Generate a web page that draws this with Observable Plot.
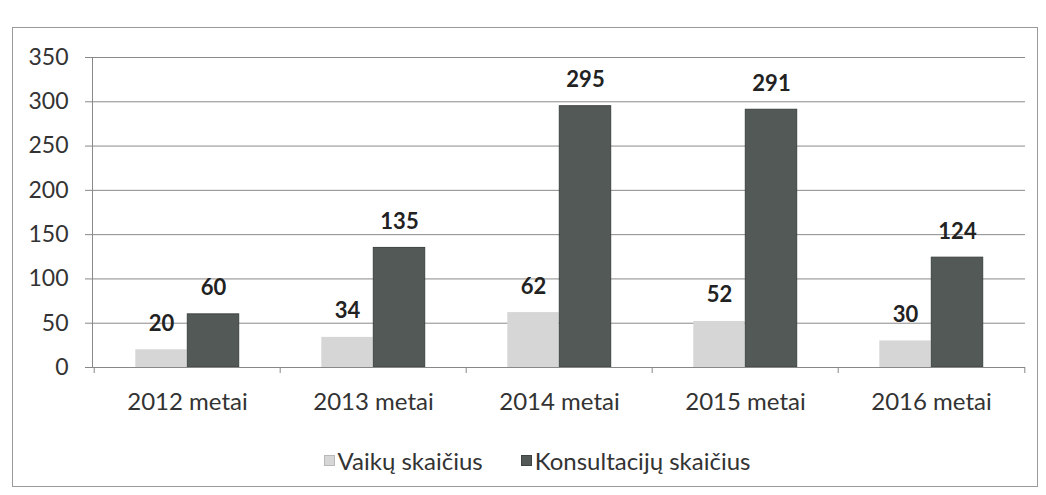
<!DOCTYPE html>
<html>
<head>
<meta charset="utf-8">
<script src="https://cdn.jsdelivr.net/npm/d3@7"></script>
<script src="https://cdn.jsdelivr.net/npm/@observablehq/plot@0.6"></script>
<style>
  html, body { margin: 0; padding: 0; background: #fff; }
  body { width: 1046px; height: 495px; position: relative; overflow: hidden; font-family: Lato, "Open Sans", sans-serif; }
  #border { position: absolute; left: 12px; top: 27px; width: 1026px; height: 460px; border: 1px solid #9a9a9a; box-sizing: border-box; }
  #chart { position: absolute; left: 0; top: 0; }
  #legend { position: absolute; left: 14px; width: 1046px; top: 446px; display: flex; justify-content: center; font-size: 24px; color: #333; }
  #legend .item { display: flex; align-items: center; gap: 3px; }
  #legend .sw { width: 11px; height: 11px; display: inline-block; box-sizing: border-box; }
</style>
</head>
<body>
<div id="border"></div>
<div id="chart"></div>
<div id="legend"></div>
<script>
const years = ["2012 metai", "2013 metai", "2014 metai", "2015 metai", "2016 metai"];
const vaikai = [20, 34, 62, 52, 30];
const konsultacijos = [60, 135, 295, 291, 124];
const seriesNames = ["Vaikų skaičius", "Konsultacijų skaičius"];
const seriesColors = ["#d6d6d6", "#535956"];
const yTicks = [0, 50, 100, 150, 200, 250, 300, 350];

const rows = [];
years.forEach((y, i) => {
  rows.push({year: y, series: seriesNames[0], value: vaikai[i]});
  rows.push({year: y, series: seriesNames[1], value: konsultacijos[i]});
});
const s0 = rows.filter(d => d.series === seriesNames[0]);
const s1 = rows.filter(d => d.series === seriesNames[1]);

const W = 1046, mL = 92, mR = 21;
const half = (W - mL - mR) / years.length / 2;
const barW = 52;

const chart = Plot.plot({
  width: W,
  height: 420,
  marginLeft: mL,
  marginRight: mR,
  marginTop: 57,
  marginBottom: 53,
  style: {fontFamily: "Lato, 'Open Sans', sans-serif", fontSize: "21px", color: "#333", background: "transparent"},
  x: {domain: years, padding: 0, label: null},
  y: {domain: [0, 350], label: null},
  marks: [
    Plot.gridY(yTicks, {stroke: "#8a8a8a", strokeOpacity: 1, strokeWidth: 1}),
    Plot.axisY(yTicks, {tickSize: 7, tickPadding: 17, fontSize: 23, fill: "#333", stroke: "#888", label: null}),
    Plot.barY(s0, {x: "year", y: "value", fill: seriesColors[0], insetLeft: half - barW, insetRight: half}),
    Plot.barY(s1, {x: "year", y: "value", fill: seriesColors[1], stroke: "#3e4441", strokeWidth: 1, insetLeft: half, insetRight: half - barW}),
    Plot.ruleY([0], {stroke: "#888"}),
    Plot.frame({anchor: "left", stroke: "#888"}),
    Plot.axisX({tickSize: 0, tickPadding: 25, fontSize: 24, fill: "#333", label: null}),
    Plot.axisX({ticks: years, tickSize: 6, text: null, dx: -half, stroke: "#888", label: null}),
    Plot.axisX({ticks: [years[years.length - 1]], tickSize: 6, text: null, dx: half, stroke: "#888", label: null}),
    Plot.text(s0, {x: "year", y: "value", text: "value", dx: -barW / 2, dy: -26, fontSize: 22, fontWeight: "bold", fill: "#222"}),
    Plot.text(s1, {x: "year", y: "value", text: "value", dx: barW / 2, dy: -26, fontSize: 22, fontWeight: "bold", fill: "#222"})
  ]
});
document.getElementById("chart").appendChild(chart);

const legend = document.getElementById("legend");
seriesNames.forEach((name, i) => {
  const item = document.createElement("div");
  item.className = "item";
  if (i > 0) item.style.marginLeft = "38px";
  const sw = document.createElement("span");
  sw.className = "sw";
  sw.style.background = seriesColors[i];
  sw.style.border = "1px solid " + (i === 0 ? "#b8b8b8" : "#3e4441");
  const t = document.createElement("span");
  t.textContent = name;
  item.appendChild(sw);
  item.appendChild(t);
  legend.appendChild(item);
});
</script>
</body>
</html>
